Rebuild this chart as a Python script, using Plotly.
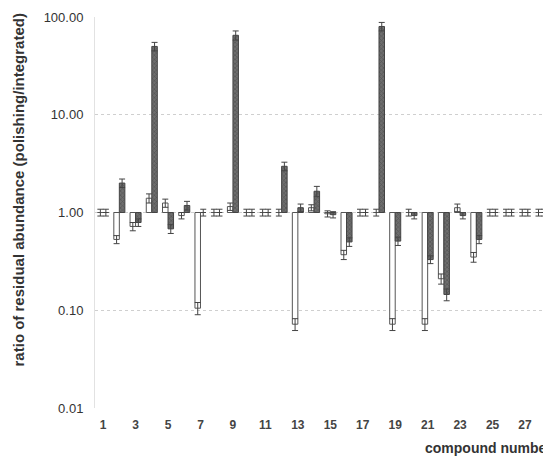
import plotly.graph_objects as go

compounds = list(range(1, 29))
polishing_white = [1.0, 0.53, 0.72, 1.4, 1.25, 0.93, 0.105, 1.0, 1.15, 1.0, 1.0, 1.0, 0.072, 1.12, 0.97,
                   0.37, 1.0, 1.0, 0.072, 1.0, 0.072, 0.21, 1.12, 0.35, 1.0, 1.0, 1.0, 1.0]
white_err = [0.08, 0.05, 0.07, 0.15, 0.12, 0.07, 0.015, 0.08, 0.1, 0.08, 0.08, 0.08, 0.01, 0.08, 0.07,
             0.04, 0.08, 0.08, 0.01, 0.08, 0.01, 0.025, 0.1, 0.04, 0.08, 0.08, 0.08, 0.08]
polishing_gray = [1.0, 2.0, 0.79, 50, 0.68, 1.18, 1.0, 1.0, 65, 1.0, 1.0, 2.97, 1.12, 1.65, 0.95,
                  0.5, 1.0, 80, 0.51, 0.93, 0.33, 0.145, 0.93, 0.53, 1.0, 1.0, 1.0, 1.0]
gray_err = [0.08, 0.2, 0.07, 5, 0.07, 0.12, 0.08, 0.08, 7, 0.08, 0.08, 0.3, 0.1, 0.2, 0.07,
            0.05, 0.08, 8, 0.05, 0.07, 0.03, 0.02, 0.07, 0.05, 0.08, 0.08, 0.08, 0.08]
y_ticks = [0.01, 0.1, 1, 10, 100]
y_ticklabels = ["0.01", "0.10", "1.00", "10.00", "100.00"]

baseline = 1.0
err_style = dict(type="data", symmetric=True, color="#444", thickness=1, width=3)

fig = go.Figure()
fig.add_trace(go.Bar(
    x=compounds,
    y=[v - baseline for v in polishing_white],
    base=baseline,
    marker=dict(color="white", line=dict(color="#555", width=1)),
    error_y=dict(array=white_err, **err_style),
))
fig.add_trace(go.Bar(
    x=compounds,
    y=[v - baseline for v in polishing_gray],
    base=baseline,
    marker=dict(color="#6e6e6e", line=dict(color="#444", width=1),
                pattern=dict(shape="x", fgcolor="#3a3a3a", size=3, solidity=0.4)),
    error_y=dict(array=gray_err, **err_style),
))

# page body has an 8px margin, so the figure is 8px smaller than the window
fig.update_layout(
    width=543,
    height=466,
    barmode="group",
    bargap=0.32,
    bargroupgap=0,
    showlegend=False,
    plot_bgcolor="white",
    paper_bgcolor="white",
    margin=dict(l=87, r=0, t=9, b=66),
    font=dict(family="Arial, Liberation Sans", color="#333"),
)
fig.update_xaxes(
    range=[0.5, 28.6],
    tickmode="linear", tick0=1, dtick=2,
    tickfont=dict(size=12, color="#444", weight="bold"),
    showgrid=False, zeroline=False,
    ticklen=0, ticklabelstandoff=8,
)
fig.update_yaxes(
    type="log",
    range=[-2, 2],
    tickvals=y_ticks, ticktext=y_ticklabels,
    tickfont=dict(size=13, color="#333"),
    showgrid=True, gridcolor="#cfcfcf", griddash="dot", gridwidth=1,
    showline=True, linecolor="#e2e2e2",
    zeroline=False, ticks="", ticklabelstandoff=8,
)

fig.add_annotation(
    text="<b>ratio of residual abundance (polishing/integrated)</b>",
    textangle=-90,
    xref="paper", yref="paper",
    x=-0.167, y=0.102,
    xanchor="center", yanchor="bottom",
    showarrow=False,
    font=dict(size=15, color="#333"),
)
fig.add_annotation(
    text="<b>compound number</b>",
    xref="paper", yref="paper",
    x=0.719, y=-0.102,
    xanchor="left", yanchor="middle",
    showarrow=False,
    font=dict(size=14, color="#333"),
)

fig.write_html("out.html")
